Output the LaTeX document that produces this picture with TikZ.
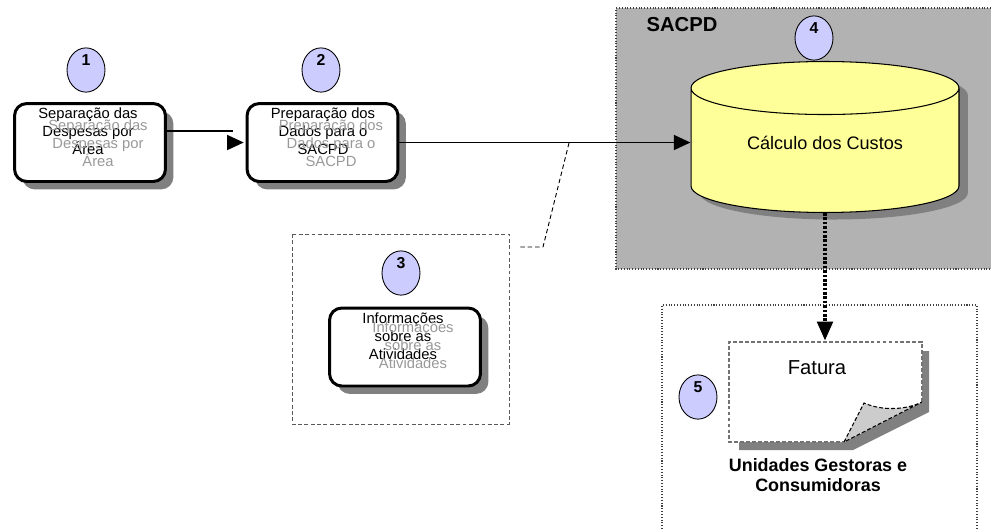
\documentclass[tikz,border=0pt]{standalone}
\usepackage{fontspec}
\setmainfont{Liberation Sans}
\usepackage{tikz}
\usetikzlibrary{arrows.meta,calc,positioning,shapes.geometric,shadows}
\definecolor{stepblue}{HTML}{CCCCFF}
\definecolor{panelgray}{HTML}{B2B2B2}
\definecolor{shadowgray}{HTML}{808080}
\definecolor{cylyellow}{HTML}{FFFF99}
\definecolor{flapgray}{HTML}{CCCCCC}
\definecolor{ghostgray}{HTML}{999999}
\tikzset{
  procbox/.style={draw,rounded corners=7pt,line width=1.7pt,fill=white,minimum width=3.02cm,minimum height=1.56cm,inner sep=0pt,
    copy shadow={fill=shadowgray,draw=none,shadow xshift=4.5pt,shadow yshift=-4.5pt}},
  stepdot/.style={ellipse,draw,line width=0.5pt,fill=stepblue,minimum width=0.76cm,minimum height=0.88cm,inner sep=0pt,
    font=\bfseries\fontsize{9}{9}\selectfont,text height=6.4pt,text depth=11.4pt},
  boxtext/.style={align=center,inner sep=0pt,font=\fontsize{8.4}{10.3}\selectfont},
  ghosttext/.style={boxtext,text=ghostgray},
  flowline/.style={line width=1.1pt},
  flowtip/.style={-{Triangle[length=9.5pt,width=8.5pt]}},
  callout/.style={line width=0.5pt,dash pattern=on 2.5pt off 1.7pt},
  dotborder/.style={line width=0.6pt,densely dotted,draw=black!75},
  pageline/.style={line width=0.6pt,dash pattern=on 2.2pt off 1.2pt}
}
\begin{document}
\begin{tikzpicture}[x=0.02cm,y=-0.02cm]
  \useasboundingbox (0,0) rectangle (991,529);
  \fill[panelgray] (616,8) rectangle (991,269);
  \draw[dotborder] (991,8) -- (616,8) -- (616,269) -- (991,269);
  \draw[dotborder] (662,529) -- (662,305) -- (977,305) -- (977,529);
  \draw[black!65,line width=0.5pt,dash pattern=on 2.2pt off 1.4pt] (292,234) rectangle (509,424);
  \node[font=\bfseries\fontsize{11.5}{11.5}\selectfont] (sacpd) at (682,25) {SACPD};

  \node[procbox] (box1) at (90,142.5) {};
  \node[procbox] (box2) at (322.5,142.5) {};
  \node[procbox] (box3) at (405,347) {};
  \node[stepdot] (n1) at (86,70) {1};
  \node[stepdot] (n2) at (321,70) {2};
  \node[stepdot] (n3) at (401,273) {3};
  \node[stepdot] (n4) at (814,38) {4};
  \node[stepdot] (n5) at (698,397) {5};

  \node[boxtext] (t1) at (88,131) {Separação das\\Despesas por\\Área};
  \node[ghosttext] (g1) at (98,143) {Separação das\\Despesas por\\Área};
  \node[boxtext] (t2) at (323,131) {Preparação dos\\Dados para o\\SACPD};
  \node[ghosttext] (g2) at (331,143) {Preparação dos\\Dados para o\\SACPD};
  \node[boxtext] (t3) at (403,336) {Informações\\sobre as\\Atividades};
  \node[ghosttext] (g3) at (413,345) {Informações\\sobre as\\Atividades};

  \node[cylinder,shape border rotate=90,aspect=0.34,draw,line width=0.6pt,fill=cylyellow,minimum width=5.36cm,minimum height=3.02cm,
    inner sep=0pt,font=\fontsize{10.3}{10.3}\selectfont,text height=7.5pt,text depth=8.5pt,
    copy shadow={fill=shadowgray,draw=none,shadow xshift=5pt,shadow yshift=-4pt}] (calc) at (825,150.5) {Cálculo dos Custos};

  \draw[flowline] ([yshift=6.5pt]box1.east) -- ++(66,0);
  \draw[flowline,flowtip] ([xshift=-10pt]box2.west) -- ([xshift=-1pt]box2.west);
  \draw[flowline,flowtip] (box2.east) -- (calc.west |- box2.east);
  \coordinate (tap) at (569,143);
  \draw[callout] (tap) -- (543,247) -- (520,247);

  \fill[shadowgray] (739,450) -- (853,450) -- (929,412) -- (929,351) -- (922,351) -- (922,402) -- (844,442) -- (739,442) -- cycle;
  \draw[pageline,draw=black!55,fill=white] (922,402) -- (922,342) -- (729,342) -- (729,442) -- (844,442);
  \draw[pageline,fill=flapgray] (844,442) -- (864,403) .. controls (882,411) and (906,410) .. (922,402) -- cycle;
  \node[font=\fontsize{11.5}{11.5}\selectfont] (fatura) at (817,368) {Fatura};
  \coordinate (fattop) at (825,341);
  \node[align=center,font=\bfseries\fontsize{10.2}{11.4}\selectfont] (ugc) at (818,475) {Unidades Gestoras e\\Consumidoras};
  \draw[line width=2.8pt,dash pattern=on 1.5pt off 1pt,-{Triangle[length=11pt,width=8.5pt]}] (calc.south) -- (fattop);
\end{tikzpicture}
\end{document}
